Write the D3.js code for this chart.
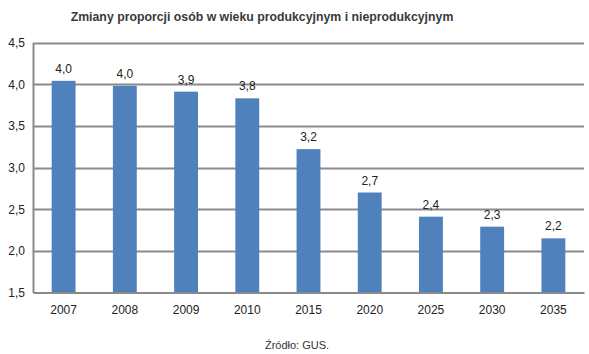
<!DOCTYPE html>
<html><head><meta charset="utf-8">
<script src="https://cdn.jsdelivr.net/npm/d3@7"></script>
<style>body{margin:0;background:#fff}svg{display:block}</style>
</head><body>
<svg id="c" width="589" height="354"></svg>
<script>
const categories = ["2007","2008","2009","2010","2015","2020","2025","2030","2035"];
const values = [4.04, 3.98, 3.91, 3.83, 3.22, 2.70, 2.41, 2.29, 2.15];
const labels = ["4,0","4,0","3,9","3,8","3,2","2,7","2,4","2,3","2,2"];
const yTicks = [1.5, 2.0, 2.5, 3.0, 3.5, 4.0, 4.5];

const svg = d3.select("#c");
const m = {left: 33, right: 5, top: 42.5, bottom: 61.5};
const W = 589, H = 354;
const x = d3.scaleBand().domain(categories).range([m.left, W - m.right]).paddingInner(0.61).paddingOuter(0.305);
const y = d3.scaleLinear().domain([1.5, 4.5]).range([H - m.bottom, m.top]);

svg.append("text").attr("x", 262).attr("y", 21).attr("text-anchor", "middle")
  .attr("font-family", "Liberation Sans, Arial, sans-serif").attr("font-weight", "bold")
  .attr("font-size", 12.3).attr("fill", "#3a3a3a")
  .text("Zmiany proporcji osób w wieku produkcyjnym i nieprodukcyjnym");

// gridlines
svg.append("g").selectAll("line").data(yTicks.slice(1)).join("line")
  .attr("x1", m.left).attr("x2", W - m.right)
  .attr("y1", d => Math.round(y(d)) + 0.5).attr("y2", d => Math.round(y(d)) + 0.5)
  .attr("stroke", "#8a8a8a").attr("stroke-width", 2);

// y axis
const ya = svg.append("g").attr("transform", `translate(${m.left},0)`)
  .call(d3.axisLeft(y).tickValues(yTicks).tickSize(0).tickPadding(8).tickFormat(d => d3.format(".1f")(d).replace(".", ",")));
ya.select(".domain").attr("stroke", "#8a8a8a").attr("stroke-width", 2);
ya.selectAll("text").attr("font-family", "Liberation Sans, Arial, sans-serif").attr("font-size", 12).attr("fill", "#222");

// bars
svg.append("g").selectAll("rect").data(categories).join("rect")
  .attr("x", d => x(d)).attr("width", x.bandwidth())
  .attr("y", (d, i) => y(values[i])).attr("height", (d, i) => y(1.5) - y(values[i]))
  .attr("fill", "#4F81BD");

// data labels
svg.append("g").selectAll("text").data(categories).join("text")
  .attr("x", d => x(d) + x.bandwidth() / 2).attr("y", (d, i) => y(values[i]) - 8)
  .attr("text-anchor", "middle").attr("font-family", "Liberation Sans, Arial, sans-serif")
  .attr("font-size", 12).attr("fill", "#222").text((d, i) => labels[i]);

// x axis
const xa = svg.append("g").attr("transform", `translate(0,${y(1.5)})`)
  .call(d3.axisBottom(x).tickSize(0).tickPadding(13).tickSizeOuter(0));
xa.select(".domain").attr("stroke", "#8a8a8a").attr("stroke-width", 2);
xa.selectAll("text").attr("font-family", "Liberation Sans, Arial, sans-serif").attr("font-size", 12).attr("fill", "#222");

svg.append("text").attr("x", 297).attr("y", 349).attr("text-anchor", "middle")
  .attr("font-family", "Liberation Sans, Arial, sans-serif").attr("font-size", 11).attr("fill", "#333")
  .text("Źródło: GUS.");
</script>
</body></html>
